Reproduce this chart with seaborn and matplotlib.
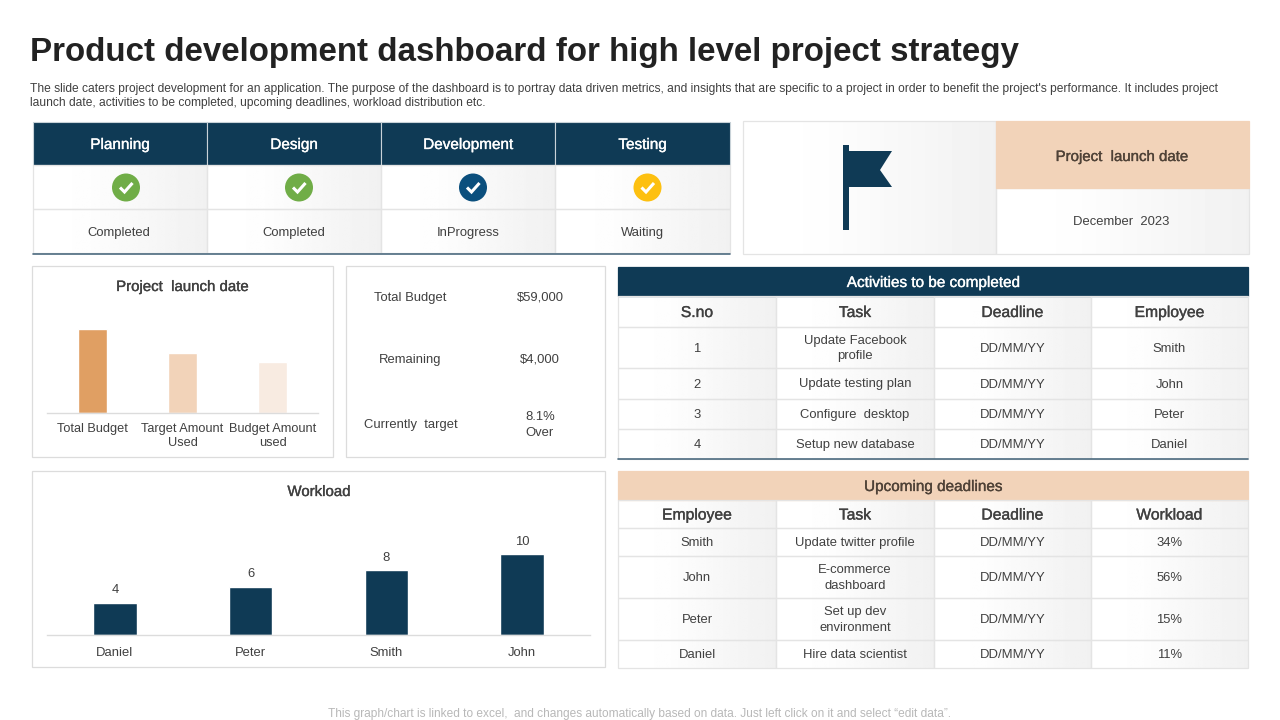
import numpy as np
import pandas as pd
import seaborn as sns
import matplotlib.pyplot as plt
import matplotlib.patheffects as pe
from matplotlib.patches import Rectangle, Circle, Polygon

NAVY = "#0f3a55"
PEACH = "#f2d3b9"
GRID = "#dcdcdc"
CELL_LINE = "#e4e4e4"
TEXT = "#404040"

title = "Product development dashboard for high level project strategy"
subtitle = [
    "The slide caters project development for an application. The purpose of the dashboard is to portray data driven metrics, and insights that are specific to a project in order to benefit the project's performance. It includes project",
    "launch date, activities to be completed, upcoming deadlines, workload distribution etc.",
]
footer = "This graph/chart is linked to excel,  and changes automatically based on data. Just left click on it and select \u201cedit data\u201d."

phases = ["Planning", "Design", "Development", "Testing"]
phase_status = ["Completed", "Completed", "InProgress", "Waiting"]
phase_colors = ["#70ad47", "#70ad47", "#0b4f7d", "#fdc010"]

budget_labels = ["Total Budget", "Target Amount\nUsed", "Budget Amount\nused"]
budget_values = [59000, 42000, 35500]
budget_colors = ["#e09f63", "#f2d3b9", "#f8ebe1"]

summary_labels = ["Total Budget", "Remaining", "Currently  target"]
summary_values = ["$59,000", "$4,000", "8.1%\nOver"]

workload_names = ["Daniel", "Peter", "Smith", "John"]
workload_values = [4, 6, 8, 10]

activity_head = ["S.no", "Task", "Deadline", "Employee"]
activity_rows = [
    ["1", "Update Facebook\nprofile", "DD/MM/YY", "Smith"],
    ["2", "Update testing plan", "DD/MM/YY", "John"],
    ["3", "Configure  desktop", "DD/MM/YY", "Peter"],
    ["4", "Setup new database", "DD/MM/YY", "Daniel"],
]

upcoming_head = ["Employee", "Task", "Deadline", "Workload"]
upcoming_rows = [
    ["Smith", "Update twitter profile", "DD/MM/YY", "34%"],
    ["John", "E-commerce\ndashboard", "DD/MM/YY", "56%"],
    ["Peter", "Set up dev\nenvironment", "DD/MM/YY", "15%"],
    ["Daniel", "Hire data scientist", "DD/MM/YY", "11%"],
]

sns.set_theme(style="white")
plt.rcParams["font.family"] = ["Liberation Sans", "DejaVu Sans"]

fig = plt.figure(figsize=(12.8, 7.2), dpi=100)
bg = fig.add_axes([0, 0, 1, 1])
bg.axis("off")

# white on the left half, light grey towards the right edge
grad = np.interp(np.linspace(0, 1, 64), [0, 0.3, 1], [1, 0.995, 0.945]).reshape(1, -1)


def gradient_cell(x0, y0, x1, y1):
    bg.imshow(grad, extent=[x0, x1, y1, y0], cmap="gray", vmin=0, vmax=1,
              aspect="auto", interpolation="bilinear", zorder=1)
    bg.add_patch(Rectangle((x0, y0), x1 - x0, y1 - y0, fill=False, ec=CELL_LINE, lw=0.9, zorder=2))


def box(x0, y0, x1, y1, fc="none", ec=GRID, lw=0.9):
    bg.add_patch(Rectangle((x0, y0), x1 - x0, y1 - y0, fc=fc, ec=ec, lw=lw, zorder=2))


def label(x, y, s, size=9.4, color=TEXT, heavy=False):
    t = bg.text(x, y + 1, s, fontsize=size, color=color, ha="center", va="center",
                linespacing=1.42, zorder=5)
    # the slide's headings are only slightly heavier than regular
    if heavy:
        t.set_path_effects([pe.withStroke(linewidth=0.25, foreground=color)])


def pixel_axes(x0, y0, x1, y1):
    return fig.add_axes([x0 / 1280, 1 - y1 / 720, (x1 - x0) / 1280, (y1 - y0) / 720], facecolor="none")


def data_table(cols, y_edges, title_text, title_fc, title_color, head, rows, bottom=None):
    box(cols[0], y_edges[0], cols[-1], y_edges[1], fc=title_fc, ec=title_fc)
    label((cols[0] + cols[-1]) / 2, (y_edges[0] + y_edges[1]) / 2 + 0.5, title_text, size=11,
          color=title_color, heavy=True)
    for r, row in enumerate([head] + rows):
        y0, y1 = y_edges[r + 1], y_edges[r + 2]
        for c, val in enumerate(row):
            gradient_cell(cols[c], y0, cols[c + 1], y1)
            xc = (cols[c] + cols[c + 1]) / 2
            if r == 0:
                label(xc, (y0 + y1) / 2, val, size=11.3, heavy=True)
            else:
                label(xc, (y0 + y1) / 2, val)
    if bottom:
        bg.plot([cols[0], cols[-1]], [y_edges[-1]] * 2, color=bottom, lw=1.2, zorder=4)


# title block
bg.text(30, 52.5, title, fontsize=23.85, fontweight="bold", color="#222222", va="center", ha="left", zorder=5)
bg.text(30, 89, subtitle[0], fontsize=8.65, color=TEXT, va="center", ha="left", zorder=5)
bg.text(30, 103, subtitle[1], fontsize=8.65, color=TEXT, va="center", ha="left", zorder=5)
bg.text(639, 714, footer, fontsize=8.6, color="#b8b8b8", va="center", ha="center", zorder=5)

# project phases
phase_x = [33, 207, 381, 555, 730]
for i, name in enumerate(phases):
    x0, x1 = phase_x[i], phase_x[i + 1]
    xc = (x0 + x1) / 2
    box(x0, 122, x1, 165, fc=NAVY, ec="#c8d2d8", lw=0.8)
    label(xc, 144, name, size=11, color="white", heavy=True)
    gradient_cell(x0, 165, x1, 209)
    gradient_cell(x0, 209, x1, 253)
    cx = xc + 6 - (1 if i else 0)
    bg.add_patch(Circle((cx, 187.5), 14, fc=phase_colors[i], ec="none", zorder=4))
    bg.plot([cx - 6, cx - 1.5, cx + 6.5], [187.5, 192, 183], color="white", lw=2.2, zorder=5,
            solid_capstyle="butt", solid_joinstyle="miter")
    label(xc - 1 if i < 1 else xc, 232, phase_status[i])
bg.plot([33, 730], [254, 254], color="#4d6b80", lw=1.2, zorder=4)

# launch date card
gradient_cell(743, 121, 996, 254)
gradient_cell(996, 188, 1249, 254)
box(996, 121, 1249, 188, fc=PEACH, ec=PEACH)
bg.add_patch(Rectangle((843, 145), 6, 85, fc=NAVY, ec="none", zorder=4))
bg.add_patch(Polygon([(849, 151), (892, 151), (880, 170), (892, 187), (849, 187)],
                     closed=True, fc=NAVY, ec="none", zorder=4))
label(1122, 156, "Project  launch date", size=10.8, color="#4f4237", heavy=True)
label(1121, 221, "December  2023")

# panels
box(32, 266, 333, 457, fc="white")
box(346, 266, 605, 457, fc="white")
box(32, 471, 605, 667, fc="white")
label(182.5, 286, "Project  launch date", size=10.8, heavy=True)
label(319, 491, "Workload", size=10.8, heavy=True)

for i, (name, val) in enumerate(zip(summary_labels, summary_values)):
    y = [297, 359, 424][i]
    label(410.5, y, name)
    label(540, y, val)

# budget chart
budget_df = pd.DataFrame({"item": budget_labels, "value": budget_values})
ax1 = pixel_axes(47, 320, 318, 413)
sns.barplot(data=budget_df, x="item", y="value", hue="item", palette=budget_colors,
            width=0.32, legend=False, ax=ax1, saturation=1)
ax1.set_ylim(0, 59000 * 93 / 84)
ax1.set_xlim(-0.5, 2.5)

# workload chart
workload_df = pd.DataFrame({"name": workload_names, "value": workload_values})
ax2 = pixel_axes(47, 545, 590, 635)
sns.barplot(data=workload_df, x="name", y="value", color=NAVY, width=0.32, ax=ax2, saturation=1)
ax2.set_ylim(0, 11.15)
ax2.set_xlim(-0.5, 3.5)
ax2.bar_label(ax2.containers[0], fontsize=9.4, color=TEXT, padding=4.5)

for ax in (ax1, ax2):
    sns.despine(ax=ax, left=True)
    ax.spines["bottom"].set_color(GRID)
    ax.spines["bottom"].set_linewidth(1.0)
    ax.set_xlabel("")
    ax.set_ylabel("")
    ax.set_yticks([])
    ax.tick_params(axis="x", length=0, labelsize=9.2, labelcolor=TEXT, pad=7)
ax2.tick_params(axis="x", labelsize=9.4, pad=9)
for tick in ax1.get_xticklabels():
    tick.set_linespacing(1.3)

# tables
table_cols = [618, 776, 934, 1091, 1248]
data_table(table_cols, [267, 296, 327, 368, 399, 429, 459], "Activities to be completed",
           NAVY, "white", activity_head, activity_rows, bottom="#4d6b80")
data_table(table_cols, [471, 500, 528, 556, 598, 640, 668], "Upcoming deadlines",
           PEACH, "#4f4237", upcoming_head, upcoming_rows)

bg.set_xlim(0, 1280)
bg.set_ylim(720, 0)

fig.savefig("out.png", dpi=100, facecolor="white")
